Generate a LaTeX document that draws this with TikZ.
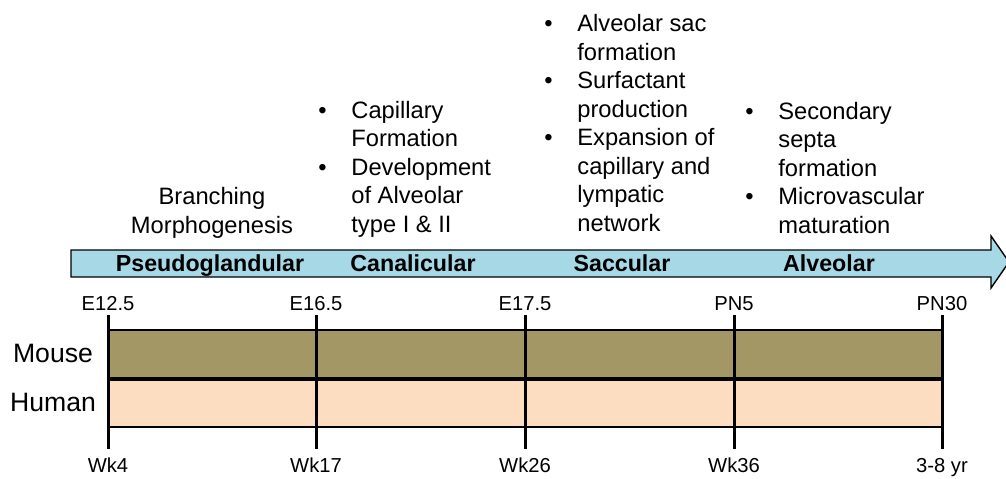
\documentclass[tikz,border=0pt]{standalone}
\usepackage{fontspec}
\setmainfont{Liberation Sans}
\definecolor{mousecol}{RGB}{164,151,102}
\definecolor{humancol}{RGB}{252,221,193}
\definecolor{arrowcol}{RGB}{167,216,229}
\newcommand{\bulletitem}{\llap{\makebox[16.5pt][l]{\textbullet}}}

\begin{document}
\begin{tikzpicture}[x=0.5pt, y=-0.5pt,
    stage/.style={font=\fontsize{11.6}{14}\selectfont\bfseries, anchor=base, inner sep=0pt},
    notes/.style={font=\fontsize{11.85}{14.25}\selectfont, align=left, anchor=base west, inner sep=0pt},
    species/.style={font=\fontsize{13.3}{16}\selectfont, anchor=base, inner sep=0pt},
    datelabel/.style={font=\fontsize{10.1}{12}\selectfont, anchor=base, inner sep=0pt},
    tick/.style={line width=1.5pt},
    bar/.style={draw=black, line width=0.6pt}]

  \useasboundingbox (0,0) rectangle (1006,478);

  % Draw stage arrow
  \draw[fill=arrowcol, line width=0.7pt] (71,250) -- (991,250) -- (991,236) -- (1009,262)
    -- (991,288) -- (991,277) -- (71,277) -- cycle;
  \node[stage] (pseudo) at (210,271) {Pseudoglandular};
  \node[stage] (canal) at (413,271) {Canalicular};
  \node[stage] (saccul) at (622,271) {Saccular};
  \node[stage] (alveol) at (829,271) {Alveolar};

  % Draw stage notes (anchored at the last line)
  \node[notes, align=center, anchor=base] (branch) at (212,233) {Branching\\Morphogenesis};
  \node[notes] (canalnotes) at (351,232) {\bulletitem Capillary\\Formation\\\bulletitem Development\\of Alveolar\\type I \& II};
  \node[notes] (saccnotes) at (577,231) {\bulletitem Alveolar sac\\formation\\\bulletitem Surfactant\\production\\\bulletitem Expansion of\\capillary and\\lympatic\\network};
  \node[notes] (alvnotes) at (778,233) {\bulletitem Secondary\\septa\\formation\\\bulletitem Microvascular\\maturation};

  % Draw bars
  \draw[bar, fill=mousecol] (108,330) rectangle (942,378);
  \draw[bar, fill=humancol] (108,380) rectangle (942,427);
  \node[species] (mouse) at (53,362.7) {Mouse};
  \node[species] (human) at (53,411.7) {Human};

  % Draw ticks
  \coordinate (t1) at (108,315); \coordinate (b1) at (108,449);
  \coordinate (t2) at (316,315); \coordinate (b2) at (316,449);
  \coordinate (t3) at (525,315); \coordinate (b3) at (525,449);
  \coordinate (t4) at (734,315); \coordinate (b4) at (734,449);
  \coordinate (t5) at (942,315); \coordinate (b5) at (942,449);
  \draw[tick] (t1) -- (b1);
  \draw[tick] (t2) -- (b2);
  \draw[tick] (t3) -- (b3);
  \draw[tick] (t4) -- (b4);
  \draw[tick] (t5) -- (b5);

  % Draw time labels
  \node[datelabel] (e125) at (108,310) {E12.5};
  \node[datelabel] (e165) at (316,310) {E16.5};
  \node[datelabel] (e175) at (525,310) {E17.5};
  \node[datelabel] (pn5) at (734,310) {PN5};
  \node[datelabel] (pn30) at (942,310) {PN30};
  \node[datelabel] (wk4) at (108,472.5) {Wk4};
  \node[datelabel] (wk17) at (316,472.5) {Wk17};
  \node[datelabel] (wk26) at (525,472.5) {Wk26};
  \node[datelabel] (wk36) at (734,472.5) {Wk36};
  \node[datelabel] (yr) at (942,472.5) {3-8 yr};
\end{tikzpicture}
\end{document}
